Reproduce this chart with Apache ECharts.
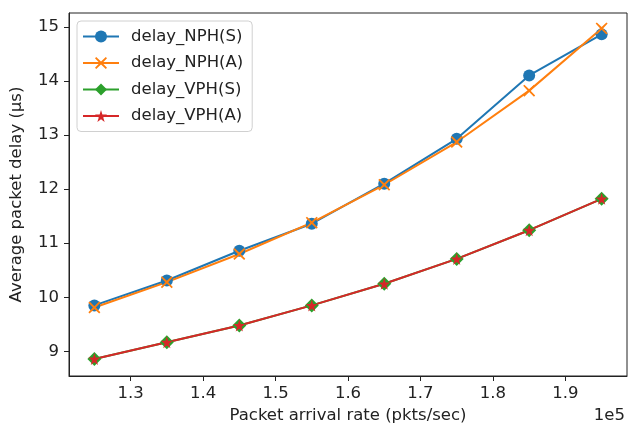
<!DOCTYPE html>
<html>
<head>
<meta charset="utf-8">
<script src="https://cdn.jsdelivr.net/npm/echarts@6/dist/echarts.min.js"></script>
<style>
  html, body { margin: 0; padding: 0; background: #fff; }
  #chart { width: 628px; height: 430px; }
</style>
</head>
<body>
<div id="chart"></div>
<script>
// Packet arrival rates (pkts/sec)
const arrivalRates = [125000, 135000, 145000, 155000, 165000, 175000, 185000, 195000];

// Average packet delay (µs) per scheme
const delayNphS = [9.85, 10.31, 10.86, 11.36, 12.10, 12.93, 14.10, 14.86];
const delayNphA = [9.81, 10.28, 10.80, 11.38, 12.08, 12.87, 13.82, 14.97];
const delayVphS = [8.86, 9.17, 9.48, 9.85, 10.25, 10.71, 11.24, 11.82];
const delayVphA = [8.86, 9.17, 9.48, 9.85, 10.25, 10.71, 11.24, 11.82];

const seriesNames = ['delay_NPH(S)', 'delay_NPH(A)', 'delay_VPH(S)', 'delay_VPH(A)'];

// Tick positions
const xTicks = [130000, 140000, 150000, 160000, 170000, 180000, 190000];
const yTicks = [9, 10, 11, 12, 13, 14, 15];

const FONT = 'DejaVu Sans';
const FS = 16.5;
const TEXT = '#222';

const crossPath = 'path://M1,0 L5,3.8 L9,0 L10,1 L6.2,5 L10,9 L9,10 L5,6.2 L1,10 L0,9 L3.8,5 L0,1 Z';
const starPath = 'path://M50,0 L61,35 L98,35 L68,57 L79,91 L50,70 L21,91 L32,57 L2,35 L39,35 Z';

function pairs(ys) {
  return arrivalRates.map((x, i) => [x, ys[i]]);
}

function makeSeries(name, ys, color, symbol, size) {
  return {
    name: name,
    type: 'line',
    data: pairs(ys),
    symbol: symbol,
    symbolSize: size,
    showAllSymbol: true,
    lineStyle: { color: color, width: 2 },
    itemStyle: { color: color, borderWidth: 0 },
    emphasis: { disabled: true }
  };
}

const chart = echarts.init(document.getElementById('chart'), null, { renderer: 'canvas' });

chart.setOption({
  animation: false,
  backgroundColor: '#fff',
  grid: { left: 69, right: 1, top: 13, bottom: 54, show: true, borderColor: '#222', borderWidth: 1, backgroundColor: 'transparent' },
  legend: {
    orient: 'vertical',
    left: 77,
    top: 21,
    padding: [6, 9, 6, 5],
    itemWidth: 36,
    itemHeight: 15,
    itemGap: 7.5,
    backgroundColor: '#fff',
    borderColor: '#d0d0d0',
    borderWidth: 1,
    borderRadius: 4,
    textStyle: { fontFamily: FONT, fontSize: FS, lineHeight: 19, color: TEXT, padding: [0, 0, 0, 7] },
    data: seriesNames
  },
  xAxis: {
    type: 'value',
    min: 121500,
    max: 198500,
    name: 'Packet arrival rate (pkts/sec)',
    nameLocation: 'middle',
    nameGap: 30,
    nameTextStyle: { fontFamily: FONT, fontSize: FS, color: TEXT },
    axisLine: { show: true, onZero: false, lineStyle: { color: '#222', width: 1 } },
    axisTick: { show: true, length: 5, lineStyle: { color: '#222' }, customValues: xTicks },
    axisLabel: {
      fontFamily: FONT, fontSize: FS, color: TEXT, margin: 9,
      customValues: xTicks,
      formatter: v => (v / 1e5).toFixed(1)
    },
    splitLine: { show: false }
  },
  yAxis: {
    type: 'value',
    min: 8.545,
    max: 15.255,
    name: 'Average packet delay (\u03bcs)',
    nameLocation: 'middle',
    nameGap: 44,
    nameTextStyle: { fontFamily: FONT, fontSize: FS, color: TEXT },
    axisLine: { show: true, onZero: false, lineStyle: { color: '#222', width: 1 } },
    axisTick: { show: true, length: 5, lineStyle: { color: '#222' }, customValues: yTicks },
    axisLabel: {
      fontFamily: FONT, fontSize: FS, color: TEXT, margin: 10,
      customValues: yTicks,
      formatter: v => String(Math.round(v))
    },
    splitLine: { show: false }
  },
  graphic: [{
    type: 'text',
    right: 3,
    top: 407,
    style: { text: '1e5', fontFamily: FONT, fontSize: FS, fill: TEXT }
  }],
  series: [
    makeSeries(seriesNames[0], delayNphS, '#1f77b4', 'circle', 12),
    makeSeries(seriesNames[1], delayNphA, '#ff7f0e', crossPath, 12),
    makeSeries(seriesNames[2], delayVphS, '#2ca02c', 'diamond', 14),
    makeSeries(seriesNames[3], delayVphA, '#d62728', starPath, 12)
  ]
});
</script>
</body>
</html>
